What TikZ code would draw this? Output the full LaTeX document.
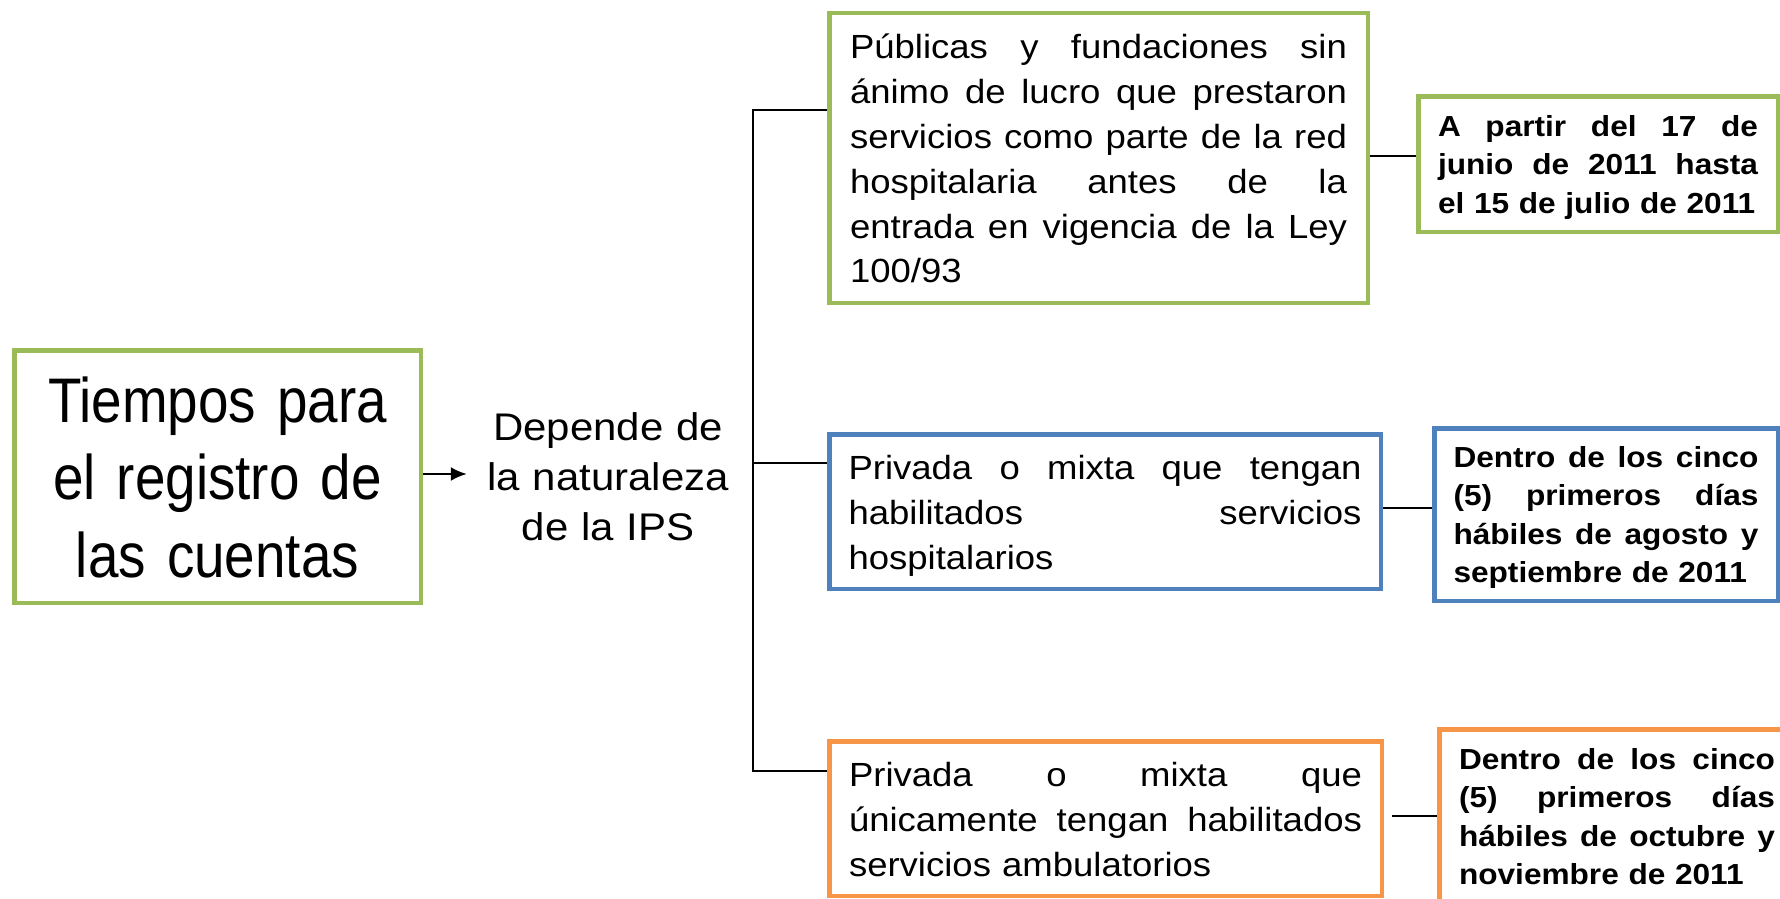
\documentclass[tikz,border=0pt]{standalone}
\usepackage{fontspec}
\newfontfamily\boxf{Liberation Sans}[FakeStretch=1.09]
\newfontfamily\narf{Liberation Sans}[FakeStretch=0.87]
\usetikzlibrary{arrows.meta}
\definecolor{cgreen}{HTML}{9BBB59}
\definecolor{cblue}{HTML}{4F81BD}
\definecolor{corange}{HTML}{F79646}
\newcommand\jl[2]{\leavevmode\hbox to #1{\strut#2}}
\newcommand\lline[1]{\leavevmode\strut#1}
\newcommand\topx[1]{\leavevmode\rule{0pt}{\dimexpr0.7\baselineskip+#1\relax}}
\begin{document}
\begin{tikzpicture}[x=1pt,y=-1pt,
  box/.style={draw,line width=4.5pt,inner sep=0pt},
  txt/.style={font=\boxf\fontsize{33.5}{44.8}\selectfont,align=left},
  btxt/.style={font=\boxf\bfseries\fontsize{29}{38.4}\selectfont,align=left},
  conn/.style={line width=2.7pt,draw=black}]
\useasboundingbox (0,0) rectangle (1780,899);
\clip (0,0) rectangle (1780,899);

% left title box
\node[box,draw=cgreen,minimum width=406.5pt,minimum height=252.5pt,text width=390pt,align=center,
  font=\narf\fontsize{63}{77.5}\selectfont] (L) at (217.5,476.5)
  {\topx{15pt}\strut Tiempos para\\\strut el registro de\\\strut las cuentas};

% middle label
\node[inner sep=0pt,inner xsep=16pt,text width=250pt,align=center,
  font=\boxf\fontsize{38.5}{50}\selectfont] (D) at (608,480)
  {\strut Depende de\\\strut la naturaleza\\\strut de la IPS};

% category boxes
\node[box,draw=cgreen,minimum width=538.5pt,minimum height=289.5pt,text width=497pt,txt] (B1) at (1098.5,158)
  {\topx{8pt}\jl{497pt}{Públicas\hfill y\hfill fundaciones\hfill sin}\\\jl{497pt}{ánimo\hfill de\hfill lucro\hfill que\hfill prestaron}\\\jl{497pt}{servicios\hfill como\hfill parte\hfill de\hfill la\hfill red}\\\jl{497pt}{hospitalaria\hfill antes\hfill de\hfill la}\\\jl{497pt}{entrada\hfill en\hfill vigencia\hfill de\hfill la\hfill Ley}\\\lline{100/93}};

\node[box,draw=cblue,minimum width=551.5pt,minimum height=154.5pt,text width=513pt,txt] (B2) at (1105,511.5)
  {\topx{8pt}\jl{513pt}{Privada\hfill o\hfill mixta\hfill que\hfill tengan}\\\jl{513pt}{habilitados\hfill servicios}\\\lline{hospitalarios}};

\node[box,draw=corange,minimum width=552.5pt,minimum height=154.5pt,text width=513pt,txt] (B3) at (1105.5,818.5)
  {\topx{8pt}\jl{513pt}{Privada\hfill o\hfill mixta\hfill que}\\\jl{513pt}{únicamente\hfill tengan\hfill habilitados}\\\lline{servicios ambulatorios}};

% date boxes
\node[box,draw=cgreen,minimum width=359.5pt,minimum height=135.5pt,text width=320pt,btxt] (R1) at (1598,164)
  {\topx{6pt}\jl{320pt}{A\hfill partir\hfill del\hfill 17\hfill de}\\\jl{320pt}{junio\hfill de\hfill 2011\hfill hasta}\\\lline{el 15 de julio de 2011}};

\node[box,draw=cblue,minimum width=343.5pt,minimum height=172.5pt,text width=305pt,btxt] (R2) at (1606,514.5)
  {\topx{6pt}\jl{305pt}{Dentro\hfill de\hfill los\hfill cinco}\\\jl{305pt}{(5)\hfill primeros\hfill días}\\\jl{305pt}{hábiles\hfill de\hfill agosto\hfill y}\\\lline{septiembre de 2011}};

\node[box,draw=corange,minimum width=355.5pt,minimum height=174.5pt,text width=316pt,btxt] (R3) at (1617,816.5)
  {\topx{6pt}\jl{316pt}{Dentro\hfill de\hfill los\hfill cinco}\\\jl{316pt}{(5)\hfill primeros\hfill días}\\\jl{316pt}{hábiles\hfill de\hfill octubre\hfill y}\\\lline{noviembre de 2011}};

% arrow
\coordinate (a) at (440,474);
\draw[line width=2.2pt,-{Latex[length=16pt,width=14pt]}] (L.east |- a) -- (D.west |- a);

% trunk and branches
\coordinate (t1) at (753,110);
\coordinate (t2) at (753,463);
\coordinate (t3) at (753,771);
\draw[conn] (B1.west |- t1) -- (t1) -- (t3) -- (B3.west |- t3);
\draw[conn] (t2) -- (B2.west |- t2);

% connectors to date boxes
\coordinate (k1) at (1390,156);
\coordinate (k2) at (1400,508);
\coordinate (k3) at (1410,816);
\draw[conn] (B1.east |- k1) -- (R1.west |- k1);
\draw[conn] (B2.east |- k2) -- (R2.west |- k2);
\draw[conn,shorten <=8pt] (B3.east |- k3) -- (R3.west |- k3);
\end{tikzpicture}
\end{document}
